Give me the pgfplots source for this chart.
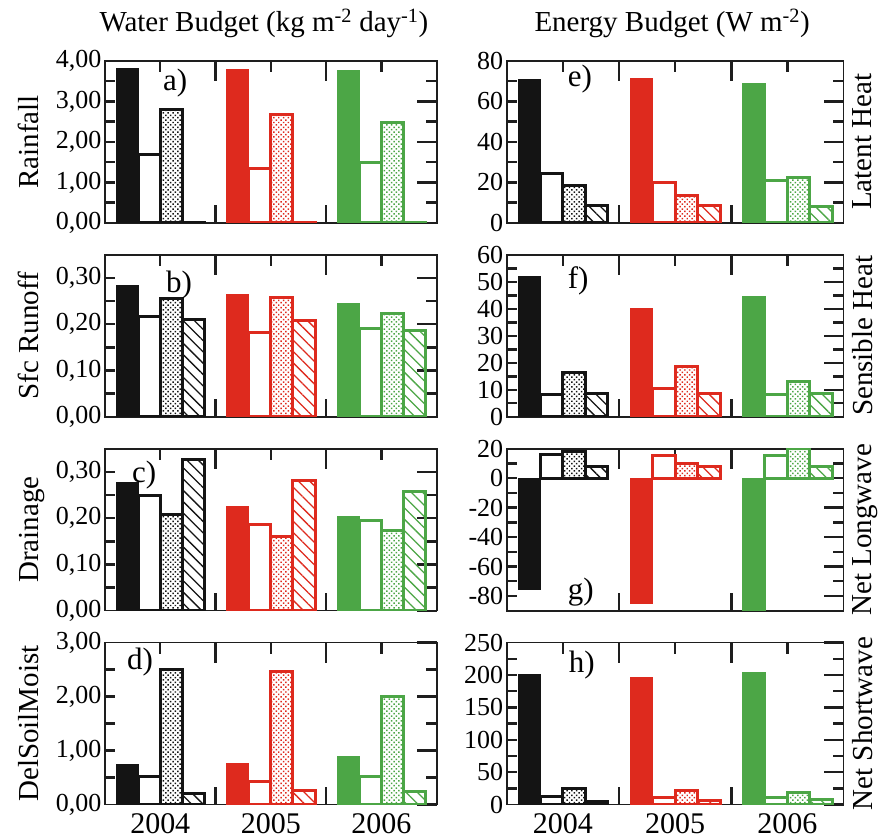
\documentclass[border=0pt]{standalone}
\usepackage{fontspec}
\setmainfont{Liberation Serif}
\usepackage{pgfplots}
\pgfplotsset{compat=1.18}
\usetikzlibrary{patterns.meta}

\definecolor{cblack}{RGB}{20,20,20}
\definecolor{cred}{RGB}{222,42,30}
\definecolor{cgreen}{RGB}{76,166,70}
\definecolor{cax}{RGB}{30,30,30}

\tikzset{
  solidbar/.style={fill=#1, draw=#1, line width=0.8pt},
  emptybar/.style={fill=white, draw=#1, line width=3pt},
  dotbar/.style={draw=#1, line width=3pt,
    pattern={Dots[distance=3.4pt, radius=1.05pt, angle=45]}, pattern color=#1},
  hatchbar/.style={draw=#1, line width=3pt,
    pattern={Lines[angle=-45, distance=8pt, line width=1.3pt]}, pattern color=#1},
  tk/.style={draw=cax, line width=2.4pt},
}

% one year: x, colour, solid, empty, dotted, hatched
\newcommand\grp[6]{%
  \addplot[solidbar=#2, bar shift=-0.3] coordinates {(#1,#3)};
  \addplot[emptybar=#2, bar shift=-0.1] coordinates {(#1,#4)};
  \addplot[dotbar=#2, bar shift=0.1] coordinates {(#1,#5)};
  \addplot[hatchbar=#2, bar shift=0.3] coordinates {(#1,#6)};
}
% short ticks on the left side, long ones at the bottom between the years
\newcommand\sideticks[1]{%
  \pgfplotsinvokeforeach{#1}{\draw[tk] (axis cs:0.5,##1) -- ++(10pt,0pt);}%
  \draw[tk] (rel axis cs:0.33333,0) -- ++(0pt,18pt);
  \draw[tk] (rel axis cs:0.66667,0) -- ++(0pt,18pt);
}

\pgfplotsset{
  panel/.style={
    scale only axis, height=162pt, anchor=north west,
    xmin=0.5, xmax=3.5, ybar, bar width=0.2,
    xtick={1.5,2.5}, xticklabels={}, minor xtick={1,2,3},
    tick pos=right, yticklabel pos=left, xticklabel pos=left,
    tick align=inside, major tick length=20pt, minor tick length=11pt,
    minor y tick num=1,
    axis line style={line width=1.6pt, cax},
    tick style={line width=2.4pt, draw=cax},
    tick label style={font=\fontsize{26}{30}\selectfont},
    x tick label style={font=\fontsize{30}{34}\selectfont, yshift=-5pt},
    /pgf/number format/assume math mode=true,
    clip mode=individual,
    ylabel style={at={(rel axis cs:-0.2,0.5)}, anchor=base,
      inner sep=0pt, font=\fontsize{29}{34}\selectfont},
  },
  years/.style={extra x ticks={1,2,3}, extra x tick labels={2004,2005,2006},
    extra x tick style={major tick length=0pt}},
  lpanel/.style={panel, width=332pt,
    yticklabel style={/pgf/number format/.cd, fixed, fixed zerofill,
      precision=2, use comma}},
  rpanel/.style={panel, width=337pt},
}

\newcommand\plab[3]{\node[anchor=base west, inner sep=0pt,
  font=\fontsize{31}{34}\selectfont] at (rel axis cs:#1,#2) {#3};}
\newcommand\rlab[2]{\node[rotate=90, anchor=north, inner sep=0pt,
  font=\fontsize{29}{34}\selectfont] at ([xshift=9pt]#1.east) {#2};}

\begin{document}
\begin{tikzpicture}
\path (0pt,0pt) rectangle (878pt,-839pt);

% ---- water budget ----
\begin{axis}[lpanel, name=a, at={(105pt,-61pt)},
  ymin=0, ymax=4, ytick={0,1,2,3,4}, ylabel={Rainfall}]
\grp{1}{cblack}{3.82}{1.70}{2.79}{0.02}
\grp{2}{cred}{3.79}{1.34}{2.68}{0.02}
\grp{3}{cgreen}{3.77}{1.49}{2.47}{0.01}
\sideticks{0.5,1,1.5,2,2.5,3,3.5}
\plab{0.175}{0.815}{a)}
\end{axis}

\begin{axis}[lpanel, name=b, at={(105pt,-255pt)},
  ymin=0, ymax=0.35, ytick={0,0.1,0.2,0.3}, ylabel={Sfc Runoff}]
\grp{1}{cblack}{0.285}{0.217}{0.256}{0.210}
\grp{2}{cred}{0.265}{0.182}{0.257}{0.208}
\grp{3}{cgreen}{0.246}{0.191}{0.224}{0.186}
\sideticks{0.05,0.1,0.15,0.2,0.25,0.3}
\plab{0.184}{0.77}{b)}
\end{axis}

\begin{axis}[lpanel, name=c, at={(105pt,-449pt)},
  ymin=0, ymax=0.35, ytick={0,0.1,0.2,0.3}, ylabel={Drainage}]
\grp{1}{cblack}{0.278}{0.250}{0.209}{0.327}
\grp{2}{cred}{0.226}{0.186}{0.160}{0.281}
\grp{3}{cgreen}{0.204}{0.194}{0.174}{0.258}
\sideticks{0.05,0.1,0.15,0.2,0.25,0.3}
\plab{0.081}{0.79}{c)}
\end{axis}

\begin{axis}[lpanel, years, name=d, at={(105pt,-643pt)},
  ymin=0, ymax=3, ytick={0,1,2,3}, ylabel={DelSoilMoist}]
\grp{1}{cblack}{0.75}{0.52}{2.50}{0.20}
\grp{2}{cred}{0.76}{0.43}{2.46}{0.27}
\grp{3}{cgreen}{0.89}{0.53}{2.01}{0.25}
\sideticks{0.5,1,1.5,2,2.5}
\plab{0.066}{0.833}{d)}
\end{axis}

% ---- energy budget ----
\begin{axis}[rpanel, name=e, at={(507pt,-61pt)},
  ymin=0, ymax=80, ytick={0,20,40,60,80}]
\grp{1}{cblack}{70.9}{24.3}{18.7}{8.6}
\grp{2}{cred}{71.6}{20.2}{13.6}{8.6}
\grp{3}{cgreen}{68.7}{20.7}{22.4}{8.3}
\sideticks{10,20,30,40,50,60,70}
\plab{0.181}{0.84}{e)}
\end{axis}

\begin{axis}[rpanel, name=f, at={(507pt,-255pt)},
  ymin=0, ymax=60, ytick={0,10,...,60}]
\grp{1}{cblack}{52.0}{8.1}{16.4}{8.7}
\grp{2}{cred}{40.0}{10.5}{18.8}{8.6}
\grp{3}{cgreen}{44.6}{8.4}{13.0}{8.6}
\sideticks{5,10,15,20,25,30,35,40,45,50,55}
\plab{0.181}{0.79}{f)}
\end{axis}

\begin{axis}[rpanel, name=g, at={(507pt,-449pt)},
  ymin=-90, ymax=20, ytick={-80,-60,...,20}]
\grp{1}{cblack}{-75.8}{15.8}{17.9}{8.1}
\grp{2}{cred}{-85.3}{15.6}{10.0}{8.1}
\grp{3}{cgreen}{-95}{15.6}{20.2}{7.7}
\sideticks{-80,-70,-60,-50,-40,-30,-20,-10,0,10}
\plab{0.181}{0.068}{g)}
\end{axis}

\begin{axis}[rpanel, years, name=h, at={(507pt,-643pt)},
  ymin=0, ymax=250, ytick={0,50,...,250}]
\grp{1}{cblack}{200.7}{12.4}{24.4}{5.2}
\grp{2}{cred}{196.6}{11.4}{21.8}{6.2}
\grp{3}{cgreen}{204.4}{10.4}{18.2}{7.3}
\sideticks{25,50,75,100,125,150,175,200,225}
\plab{0.184}{0.815}{h)}
\end{axis}

\rlab{e}{Latent Heat}
\rlab{f}{Sensible Heat}
\rlab{g}{Net Longwave}
\rlab{h}{Net Shortwave}

\node[anchor=base, font=\fontsize{29}{34}\selectfont]
  at ([xshift=-7pt,yshift=29pt]a.north) {Water Budget (kg m\textsuperscript{-2} day\textsuperscript{-1})};
\node[anchor=base, font=\fontsize{29}{34}\selectfont]
  at ([xshift=-3pt,yshift=29pt]e.north) {Energy Budget (W m\textsuperscript{-2})};
\end{tikzpicture}
\end{document}
